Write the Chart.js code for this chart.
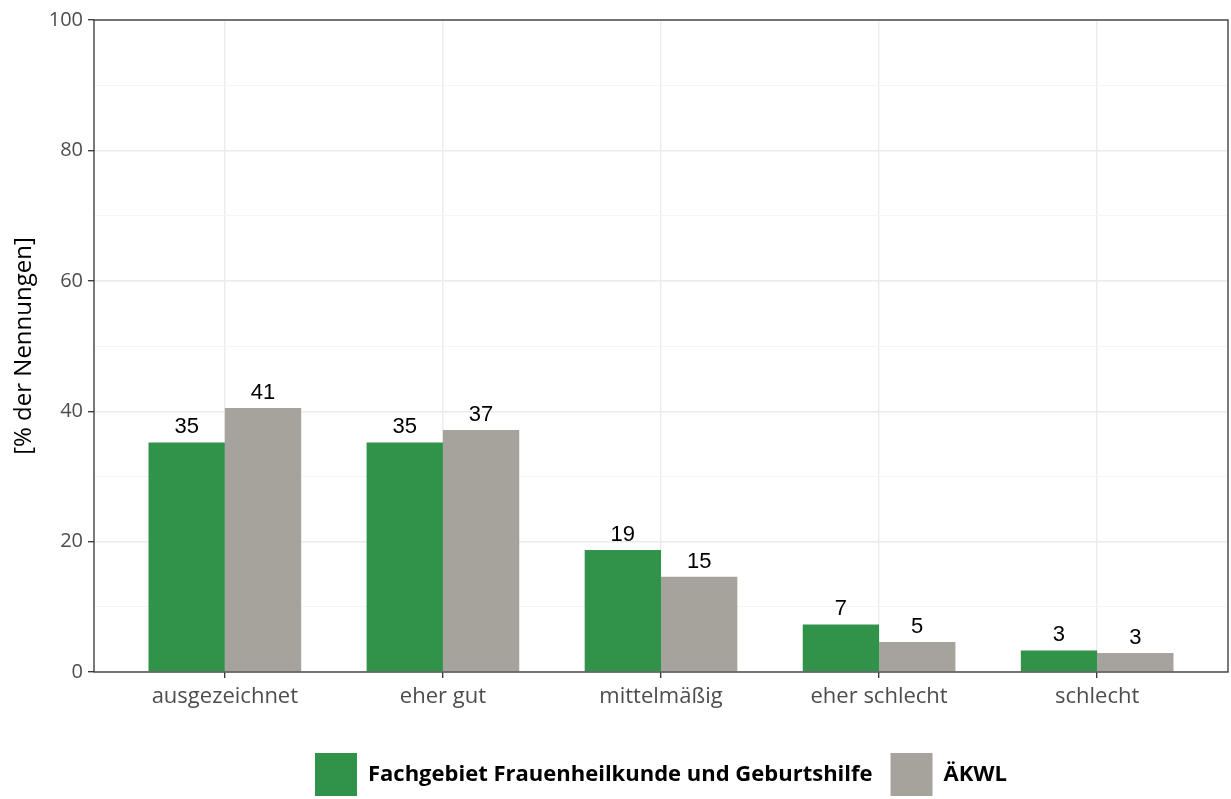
<!DOCTYPE html>
<html lang="de">
<head>
<meta charset="utf-8">
<title>Nennungen</title>
<script src="https://cdn.jsdelivr.net/npm/chart.js@4/dist/chart.umd.min.js"></script>
<style>
    html,body{margin:0;padding:0;background:#fff;}
    #wrap{width:1231px;height:799px;position:relative;}
</style>
</head>
<body>
<div id="wrap"><canvas id="chart"></canvas></div>
<script>
/* ========== Daten ========= */
const categories = ["ausgezeichnet", "eher gut", "mittelmäßig", "eher schlecht", "schlecht"];
const seriesNames = ["Fachgebiet Frauenheilkunde und Geburtshilfe", "ÄKWL"];
const fachgebiet = [35.2, 35.2, 18.7, 7.3, 3.3];
const aekwl = [40.5, 37.1, 14.6, 4.6, 2.9];
const yTicks = [0, 20, 40, 60, 80, 100];

const colors = ["#31934a", "#a6a39c"];
const greyTick = "#4d4d4d", dark = "#333333";

/* ========== Plugins ========= */
// Rahmen um das Panel (wie theme_bw)
const panelBorder = {
    id: "panelBorder",
    afterDatasetsDraw(chart){
        const {ctx, chartArea:a} = chart;
        ctx.save();
        ctx.strokeStyle = dark; ctx.lineWidth = 1.3;
        ctx.strokeRect(a.left, a.top, a.right - a.left, a.bottom - a.top);
        ctx.restore();
    }
};
// Werte über den Balken
const barLabels = {
    id: "barLabels",
    afterDatasetsDraw(chart){
        const ctx = chart.ctx;
        ctx.save();
        ctx.font = "22px 'Liberation Sans', Arial, sans-serif";
        ctx.fillStyle = "#000"; ctx.textAlign = "center"; ctx.textBaseline = "alphabetic";
        chart.data.datasets.forEach((ds, i) => {
            chart.getDatasetMeta(i).data.forEach((bar, j) => {
                ctx.fillText(Math.round(ds.data[j].y), bar.x, bar.y - 9);
            });
        });
        ctx.restore();
    }
};

/* ========== Chart ========= */
const mkData = vals => vals.map((v, i) => ({x: i, y: v}));

new Chart(document.getElementById("chart"), {
    type: "bar",
    data: {
        datasets: [
            {label: seriesNames[0], data: mkData(fachgebiet), backgroundColor: colors[0]},
            {label: seriesNames[1], data: mkData(aekwl), backgroundColor: colors[1]}
        ]
    },
    options: {
        responsive: true, maintainAspectRatio: false, animation: false,
        categoryPercentage: 0.7, barPercentage: 1,
        layout: {padding: {top: 20, right: 3, left: 0, bottom: 0}},
        scales: {
            x: {
                type: "linear", min: -0.6, max: 4.6, offset: false,
                afterBuildTicks: s => { s.ticks = categories.map((c, i) => ({value: i})); },
                afterFit: s => { s.height = 63; },
                ticks: {
                    callback: v => categories[v] ?? "",
                    color: greyTick, padding: 6, maxRotation: 0, autoSkip: false,
                    font: {family: "'Open Sans', sans-serif", size: 22}
                },
                grid: {offset: false, color: "#ebebeb", lineWidth: 1.4, tickColor: dark, tickLength: 6, tickWidth: 1.3},
                border: {display: false}
            },
            y: {
                min: 0, max: 100,
                afterBuildTicks: s => { s.ticks = []; for(let v = 0; v <= 100; v += 10) s.ticks.push({value: v}); },
                afterFit: s => { s.width = 94; },
                ticks: {
                    callback: v => yTicks.includes(v) ? v : "",
                    color: greyTick, padding: 5,
                    font: {family: "'Open Sans', sans-serif", size: 20}
                },
                grid: {
                    color: c => yTicks.includes(c.tick.value) ? "#ebebeb" : "#f5f5f5",
                    lineWidth: c => yTicks.includes(c.tick.value) ? 1.4 : 1,
                    tickColor: c => yTicks.includes(c.tick.value) ? dark : "rgba(0,0,0,0)",
                    tickLength: 6, tickWidth: 1.3
                },
                border: {display: false},
                title: {
                    display: true, text: "[% der Nennungen]", color: "#000",
                    padding: {top: 10, bottom: 0},
                    font: {family: "'Open Sans', sans-serif", size: 24}
                }
            }
        },
        plugins: {
            legend: {
                position: "bottom", fullSize: false, maxHeight: 64,
                labels: {
                    boxWidth: 42, boxHeight: 43, padding: 18, color: "#000",
                    font: {family: "'Open Sans', sans-serif", size: 22, weight: "bold"}
                }
            },
            tooltip: {enabled: false}
        }
    },
    plugins: [panelBorder, barLabels]
});
</script>
</body>
</html>
